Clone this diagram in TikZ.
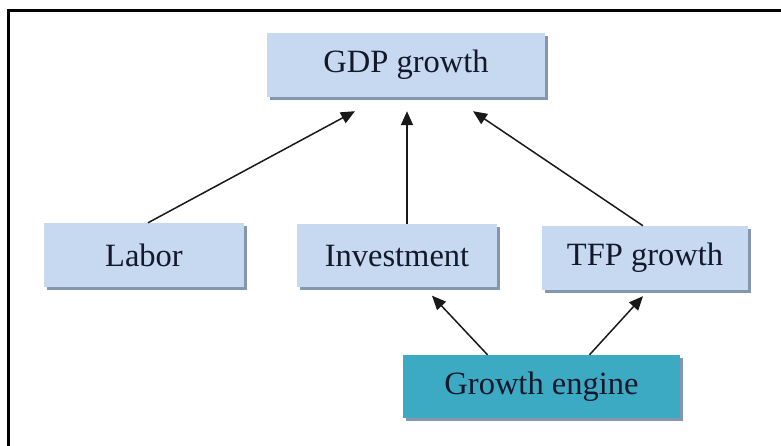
\documentclass[tikz,border=0pt]{standalone}
\usepackage{fontspec}
\setmainfont{Liberation Serif}
\usetikzlibrary{arrows.meta,shadows}
\definecolor{boxblue}{HTML}{C6D9F0}
\definecolor{engteal}{HTML}{3DAAC3}
\definecolor{shadowc}{HTML}{8497AC}
\definecolor{txtc}{HTML}{14182A}
\tikzset{
  box/.style={rectangle, fill=boxblue, draw=none, inner sep=0pt, text=txtc,
    font=\fontsize{32.5}{38}\selectfont,
    drop shadow={shadow xshift=3pt, shadow yshift=-3pt, fill=shadowc, opacity=1}},
  engbox/.style={box, fill=engteal},
  arr/.style={-{Triangle[length=14pt,width=12pt]}, line width=1.5pt, black!90},
}
\begin{document}
\begin{tikzpicture}[x=1pt,y=1pt]
\useasboundingbox (0,0) rectangle (781,446);
% frame (top and left edges)
\draw[line width=3pt, line cap=rect] (781,435) -- (8,435) -- (8,0);
% nodes (centres in pixel coordinates, y measured from bottom)
\node[box, minimum width=278pt, minimum height=64pt] (gdp) at (406,381) {GDP growth};
\node[box, minimum width=200pt, minimum height=64pt] (lab) at (144,191) {Labor};
\node[box, minimum width=200pt, minimum height=63pt] (inv) at (397,190) {Investment};
\node[box, minimum width=206pt, minimum height=64pt] (tfp) at (645,188) {TFP growth};
\node[engbox, minimum width=277pt, minimum height=63pt] (eng) at (541.5,59.5) {Growth engine};
% connectors
\draw[arr] ([xshift=4pt]lab.north) -- ([xshift=-51pt,yshift=-14pt]gdp.south);
\draw[arr] ([xshift=10pt]inv.north) -- ([xshift=1pt,yshift=-14pt]gdp.south);
\draw[arr] ([xshift=-2pt]tfp.north) -- ([xshift=67pt,yshift=-14pt]gdp.south);
\draw[arr] ([xshift=-54pt]eng.north) -- ([xshift=35pt,yshift=-8pt]inv.south);
\draw[arr] ([xshift=48pt]eng.north) -- ([xshift=-2pt,yshift=-6pt]tfp.south);
\end{tikzpicture}
\end{document}
